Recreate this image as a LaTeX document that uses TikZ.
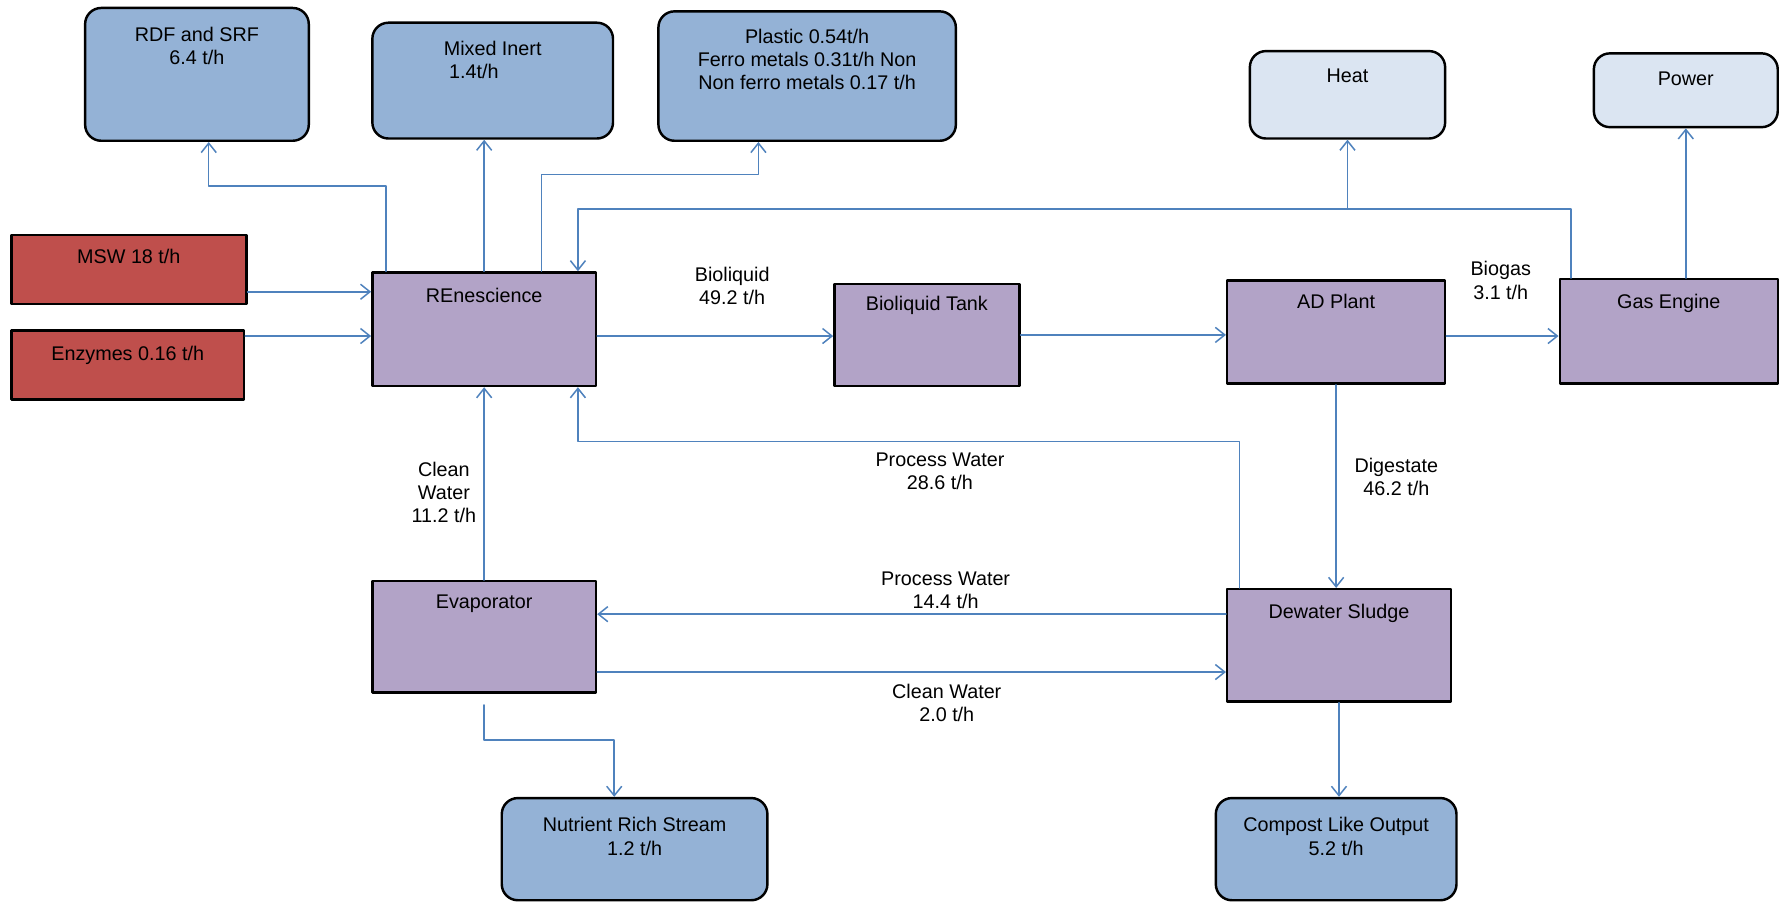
\documentclass[tikz,border=0pt]{standalone}
\usepackage{fontspec}
\setmainfont{Liberation Sans}
\usetikzlibrary{arrows.meta,fit,positioning}
\definecolor{uuaacc}{rgb}{0.31,0.51,0.74}
\definecolor{zzbbdd}{rgb}{0.58,0.70,0.84}
\definecolor{eeeeff}{rgb}{0.86,0.90,0.95}
\definecolor{ccuuuu}{rgb}{0.75,0.31,0.30}
\definecolor{bbaacc}{rgb}{0.70,0.64,0.78}

\begin{document}
\begin{tikzpicture}[line cap=round,line join=round,>={Straight Barb[length=5pt,width=8pt]},x=0.0212cm,y=-0.0212cm,
  box/.style={draw=black,line width=1.3pt,inner sep=0pt},
  outbox/.style={box,rounded corners=0.3cm,fill=zzbbdd},
  endbox/.style={box,rounded corners=0.3cm,fill=eeeeff},
  feedbox/.style={box,fill=ccuuuu},
  procbox/.style={box,fill=bbaacc},
  txt/.style={align=center,inner sep=0pt,font=\fontsize{10.5}{12.3}\selectfont},
  flow/.style={->,color=uuaacc,line width=0.8pt}]
\useasboundingbox (0,0) rectangle (1568,796);
\node[outbox,fit={(75,7) (272,124)}] (rdf) {};
\node[outbox,fit={(328,20) (540,122)}] (mix) {};
\node[outbox,fit={(580,10) (842,124)}] (plas) {};
\node[endbox,fit={(1101,45) (1273,122)}] (heat) {};
\node[endbox,fit={(1404,47) (1566,112)}] (pow) {};
\node[feedbox,fit={(10,207) (217,268)}] (msw) {};
\node[feedbox,fit={(10,291) (215,352)}] (enz) {};
\node[procbox,fit={(328,240) (525,340)}] (ren) {};
\node[procbox,fit={(735,250) (898,340)}] (tank) {};
\node[procbox,fit={(1081,247) (1273,338)}] (ad) {};
\node[procbox,fit={(1374,246) (1566,338)}] (eng) {};
\node[procbox,fit={(328,512) (525,610)}] (evap) {};
\node[procbox,fit={(1081,519) (1278,618)}] (dew) {};
\node[outbox,fit={(442,703) (676,793)}] (nut) {};
\node[outbox,fit={(1071,703) (1283,793)}] (comp) {};
\node[txt,below=0.37cm of rdf.north] (rdft) {RDF and SRF\\6.4 t/h};
\node[txt,align=left,below=0.36cm of mix.north] (mixt) {Mixed Inert\\\hspace*{0.1cm}1.4t/h};
\node[txt,below=0.34cm of plas.north] (plast) {Plastic 0.54t/h\\Ferro metals 0.31t/h Non\\Non ferro metals 0.17 t/h};
\node[txt,below=0.34cm of heat.north] (heatt) {Heat};
\node[txt,below=0.36cm of pow.north] (powt) {Power};
\node[txt,below=0.28cm of msw.north] (mswt) {MSW 18 t/h};
\node[txt,below=0.32cm of enz.north] (enzt) {Enzymes 0.16 t/h};
\node[txt,below=0.30cm of ren.north] (rent) {REnescience};
\node[txt,below=0.25cm of tank.north] (tankt) {Bioliquid Tank};
\node[txt,below=0.28cm of ad.north] (adt) {AD Plant};
\node[txt,below=0.30cm of eng.north] (engt) {Gas Engine};
\node[txt,below=0.28cm of evap.north] (evapt) {Evaporator};
\node[txt,below=0.30cm of dew.north] (dewt) {Dewater Sludge};
\node[txt,below=0.38cm of nut.north] (nutt) {Nutrient Rich Stream\\1.2 t/h};
\node[txt,below=0.38cm of comp.north] (compt) {Compost Like Output\\5.2 t/h};
\draw[flow] ([xshift=0.28cm]ren.north west) -- ++(0,-75) -| ([xshift=0.22cm]rdf.south);
\draw[flow] (ren.north) -- (ren.north |- mix.south);
\draw[flow] ([xshift=-1.04cm]ren.north east) -- ++(0,-85) -| ([xshift=-0.91cm]plas.south);
\draw[flow] ([xshift=0.23cm]eng.north west) -- ++(0,-61) coordinate (topbus) -| ([xshift=-0.36cm]ren.north east);
\draw[flow] (topbus -| heat.south) -- (heat.south);
\draw[flow] (eng.north -| pow.south) -- (pow.south);
\draw[flow] (msw.east |- 0,257) -- (ren.west |- 0,257);
\draw[flow] (enz.east |- 0,296) -- (ren.west |- 0,296);
\draw[flow] (ren.east |- 0,296) -- (tank.west |- 0,296);
\draw[flow] (tank.east) -- (ad.west |- tank.east);
\draw[flow] (ad.east |- 0,296) -- (eng.west |- 0,296);
\draw[flow] (ad.south) -- (ad.south |- dew.north);
\draw[flow] ([xshift=0.25cm]dew.north west) -- ++(0,-129) -| ([xshift=-0.36cm]ren.south east);
\draw[flow] (dew.west |- 0,541) -- (evap.east |- 0,541);
\draw[flow] (evap.east |- 0,592) -- (dew.west |- 0,592);
\draw[flow] (evap.north) -- (ren.south);
\draw[flow] ([yshift=-0.21cm]evap.south) -- ++(0,31) -| ([xshift=-0.38cm]nut.north);
\draw[flow] (dew.south) -- (dew.south |- comp.north);
\node[txt] (bioliq) at (645,252) {Bioliquid\\49.2 t/h};
\node[txt] (biogas) at (1322,247) {Biogas\\3.1 t/h};
\node[txt] (pwa) at (828,415) {Process Water\\28.6 t/h};
\node[txt] (dig) at (1230,420) {Digestate\\46.2 t/h};
\node[txt] (cwa) at (391,434) {Clean\\Water\\11.2 t/h};
\node[txt] (pwb) at (833,520) {Process Water\\14.4 t/h};
\node[txt] (cwb) at (834,619) {Clean Water\\2.0 t/h};
\end{tikzpicture}
\end{document}
